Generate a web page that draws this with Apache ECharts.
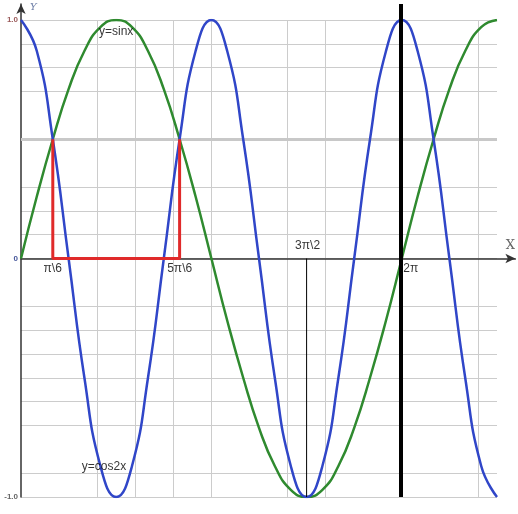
<!DOCTYPE html>
<html>
<head>
<meta charset="utf-8">
<script src="https://cdn.jsdelivr.net/npm/echarts@6/dist/echarts.min.js"></script>
<style>
  html, body { margin: 0; padding: 0; background: #fff; }
  #chart { width: 518px; height: 514px; }
</style>
</head>
<body>
<div id="chart"></div>
<script>
// x in units of pi, step pi/12
const xPi = [0, 0.083, 0.167, 0.25, 0.333, 0.417, 0.5, 0.583, 0.667, 0.75, 0.833, 0.917,
  1, 1.083, 1.167, 1.25, 1.333, 1.417, 1.5, 1.583, 1.667, 1.75, 1.833, 1.917,
  2, 2.083, 2.167, 2.25, 2.333, 2.417, 2.5]
const sinVals = [0, 0.26, 0.5, 0.71, 0.87, 0.97, 1, 0.97, 0.87, 0.71, 0.5, 0.26,
  0, -0.26, -0.5, -0.71, -0.87, -0.97, -1, -0.97, -0.87, -0.71, -0.5, -0.26,
  0, 0.26, 0.5, 0.71, 0.87, 0.97, 1]
const cosVals = [1, 0.87, 0.5, 0, -0.5, -0.87, -1, -0.87, -0.5, 0, 0.5, 0.87,
  1, 0.87, 0.5, 0, -0.5, -0.87, -1, -0.87, -0.5, 0, 0.5, 0.87,
  1, 0.87, 0.5, 0, -0.5, -0.87, -1]
// red bracket between the two intersections
const redX = [0.167, 0.167, 0.833, 0.833]
const redY = [0.5, 0, 0, 0.5]
// thin drop line at 3pi/2
const dropX = [1.5, 1.5]
const dropY = [0, -1]
const labels = [
  {text: 'π\\6', x: 1 / 6, y: 0, pos: 'bottom', off: [0, 0]},
  {text: '5π\\6', x: 5 / 6, y: 0, pos: 'bottom', off: [0, 0]},
  {text: '3π\\2', x: 1.5, y: 0, pos: 'top', off: [1, -3]},
  {text: '2π', x: 2, y: 0, pos: 'bottom', off: [9, 0]},
  {text: 'y=sinx', x: 0.5, y: 0.95, pos: 'inside', off: [0, 0]},
  {text: 'y=cos2x', x: 0.436, y: -0.874, pos: 'inside', off: [0, 0]}
]

const G = '#cccccc', T = 'rgba(0,0,0,0)'
// split line colours per tick (some grid lines are missing in the picture)
const xGridColors = [T, T, G, G, G, G, T, G, G, T, G, T, G, T]
const yGridColors = [G, G, T, G, G, G, G, G, G, T, G, G, G, G, T, G, T, G, G, G, G]

const zip = (a, b) => a.map((v, i) => [v, b[i]])
const font = 'Liberation Sans, Arial, sans-serif'

const myChart = echarts.init(document.getElementById('chart'))
const option = {
  animation: false,
  grid: [
    {left: 21, right: 21, top: 20, bottom: 17},
    {left: 21, right: 1, top: 4, bottom: 17}
  ],
  xAxis: [
    {
      type: 'value', gridIndex: 0, min: 0, max: 2.5, interval: 0.2,
      axisLine: {show: false}, axisTick: {show: false}, axisLabel: {show: false},
      splitLine: {show: true, lineStyle: {color: xGridColors, width: 1}}
    },
    {
      type: 'value', gridIndex: 1, min: 0, max: 2.605,
      axisLine: {show: true, onZero: true, symbol: ['none', 'arrow'], symbolSize: [7, 10],
        lineStyle: {color: '#333', width: 1.5}},
      axisTick: {show: false}, axisLabel: {show: false}, splitLine: {show: false},
      name: 'X', nameLocation: 'end', nameGap: -5,
      nameTextStyle: {color: '#666', fontSize: 13, fontFamily: 'DejaVu Serif', align: 'center',
        verticalAlign: 'bottom', padding: [0, 0, 6, 0]}
    }
  ],
  yAxis: [
    {
      type: 'value', gridIndex: 0, min: -1, max: 1, interval: 0.1,
      axisLine: {show: false}, axisTick: {show: false},
      axisLabel: {
        show: true, margin: 3, fontSize: 8, fontWeight: 'bold', fontFamily: font,
        formatter: v => (Math.abs(v - 1) < 1e-6 ? '1.0' : Math.abs(v + 1) < 1e-6 ? '-1.0' : Math.abs(v) < 1e-6 ? '0' : ''),
        color: v => (v > 0.5 ? '#9a5a5a' : v < -0.5 ? '#666' : '#44559a')
      },
      splitLine: {show: true, lineStyle: {color: yGridColors, width: 1}}
    },
    {
      type: 'value', gridIndex: 1, min: -1, max: 1.067,
      axisLine: {show: true, symbol: ['none', 'arrow'], symbolSize: [7, 10],
        lineStyle: {color: '#333', width: 1.5}},
      axisTick: {show: false}, axisLabel: {show: false}, splitLine: {show: false},
      name: 'Y', nameLocation: 'end', nameGap: -8,
      nameTextStyle: {color: '#7080a8', fontSize: 10, fontStyle: 'italic', fontFamily: 'DejaVu Serif',
        align: 'left', verticalAlign: 'bottom', padding: [0, 0, 0, 9]}
    }
  ],
  series: [
    {
      name: 'y=sinx', type: 'line', xAxisIndex: 0, yAxisIndex: 0, smooth: true, showSymbol: false,
      data: zip(xPi, sinVals), lineStyle: {color: '#2f8a2f', width: 2.5}, z: 3,
      markLine: {
        silent: true, symbol: ['none', 'none'], label: {show: false},
        lineStyle: {color: '#c8c8c8', width: 3, type: 'solid'},
        data: [{yAxis: 0.5}], z: 1
      }
    },
    {
      name: 'y=cos2x', type: 'line', xAxisIndex: 0, yAxisIndex: 0, smooth: true, showSymbol: false,
      data: zip(xPi, cosVals), lineStyle: {color: '#3046c8', width: 2.5}, z: 3
    },
    {
      type: 'line', xAxisIndex: 0, yAxisIndex: 0, showSymbol: false,
      data: zip(redX, redY), lineStyle: {color: '#e02a2a', width: 3}, z: 4
    },
    {
      type: 'line', xAxisIndex: 0, yAxisIndex: 0, showSymbol: false,
      data: zip(dropX, dropY), lineStyle: {color: '#000', width: 1}, z: 4
    },
    {
      type: 'line', xAxisIndex: 1, yAxisIndex: 1, data: [], z: 5,
      markLine: {
        silent: true, symbol: ['none', 'none'], label: {show: false},
        lineStyle: {color: '#000', width: 4, type: 'solid'},
        data: [{xAxis: 2}]
      }
    },
    {
      type: 'scatter', xAxisIndex: 0, yAxisIndex: 0, symbolSize: 0, z: 6,
      data: labels.map(l => ({
        value: [l.x, l.y],
        label: {show: true, formatter: l.text, position: l.pos, offset: l.off, distance: 4,
          color: '#000', fontSize: 12, fontFamily: font}
      }))
    }
  ]
}
myChart.setOption(option)
</script>
</body>
</html>
